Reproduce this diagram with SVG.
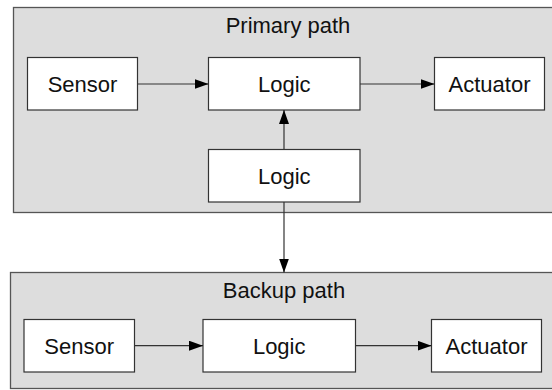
<svg xmlns="http://www.w3.org/2000/svg" width="552" height="390" viewBox="0 0 552 390">
  <style>
    .cluster { fill: #dddddd; stroke: #555555; stroke-width: 1.3; }
    .box { fill: #ffffff; stroke: #333333; stroke-width: 1.2; }
    .label { font-family: "Liberation Sans", Arial, sans-serif; font-size: 22px; fill: #111111; text-anchor: middle; }
    .edge { fill: none; stroke: #333333; stroke-width: 1.2; }
  </style>
  <defs>
    <marker id="arrow" viewBox="0 0 14 10" refX="14" refY="5" markerWidth="14" markerHeight="10" markerUnits="userSpaceOnUse" orient="auto">
      <path d="M0,0 L14,5 L0,10 Z" fill="#000000"/>
    </marker>
  </defs>

  <!-- clusters -->
  <g id="primary-path">
    <rect class="cluster" x="13.5" y="7.5" width="560" height="205"/>
    <text class="label" x="288" y="33">Primary path</text>
  </g>
  <g id="backup-path">
    <rect class="cluster" x="10.5" y="272.5" width="560" height="116"/>
    <text class="label" x="284" y="298">Backup path</text>
  </g>

  <!-- primary nodes -->
  <g id="p-sensor">
    <rect class="box" x="27.5" y="57.5" width="110" height="52.5"/>
    <text class="label" x="82.5" y="91.5">Sensor</text>
  </g>
  <g id="p-logic">
    <rect class="box" x="208.5" y="57.5" width="151.5" height="52.5"/>
    <text class="label" x="284.3" y="91.5">Logic</text>
  </g>
  <g id="p-actuator">
    <rect class="box" x="434.5" y="57.5" width="110" height="52.5"/>
    <text class="label" x="489.5" y="91.5">Actuator</text>
  </g>
  <g id="p-logic2">
    <rect class="box" x="208.5" y="149.5" width="151.5" height="52.5"/>
    <text class="label" x="284.3" y="183.5">Logic</text>
  </g>

  <!-- backup nodes -->
  <g id="b-sensor">
    <rect class="box" x="24" y="319.5" width="110.5" height="52.5"/>
    <text class="label" x="79.2" y="353.5">Sensor</text>
  </g>
  <g id="b-logic">
    <rect class="box" x="203" y="319.5" width="152.5" height="52.5"/>
    <text class="label" x="279.2" y="353.5">Logic</text>
  </g>
  <g id="b-actuator">
    <rect class="box" x="431.5" y="319.5" width="110" height="52.5"/>
    <text class="label" x="486.5" y="353.5">Actuator</text>
  </g>

  <!-- connectors -->
  <g id="edges">
    <line class="edge" x1="137.5" y1="84" x2="208.5" y2="84" marker-end="url(#arrow)"/>
    <line class="edge" x1="360" y1="84" x2="434.5" y2="84" marker-end="url(#arrow)"/>
    <line class="edge" x1="284" y1="149.5" x2="284" y2="110" marker-end="url(#arrow)"/>
    <line class="edge" x1="284" y1="202" x2="284" y2="272.5" marker-end="url(#arrow)"/>
    <line class="edge" x1="134.5" y1="345.7" x2="203" y2="345.7" marker-end="url(#arrow)"/>
    <line class="edge" x1="355.5" y1="345.7" x2="431.5" y2="345.7" marker-end="url(#arrow)"/>
  </g>
</svg>
